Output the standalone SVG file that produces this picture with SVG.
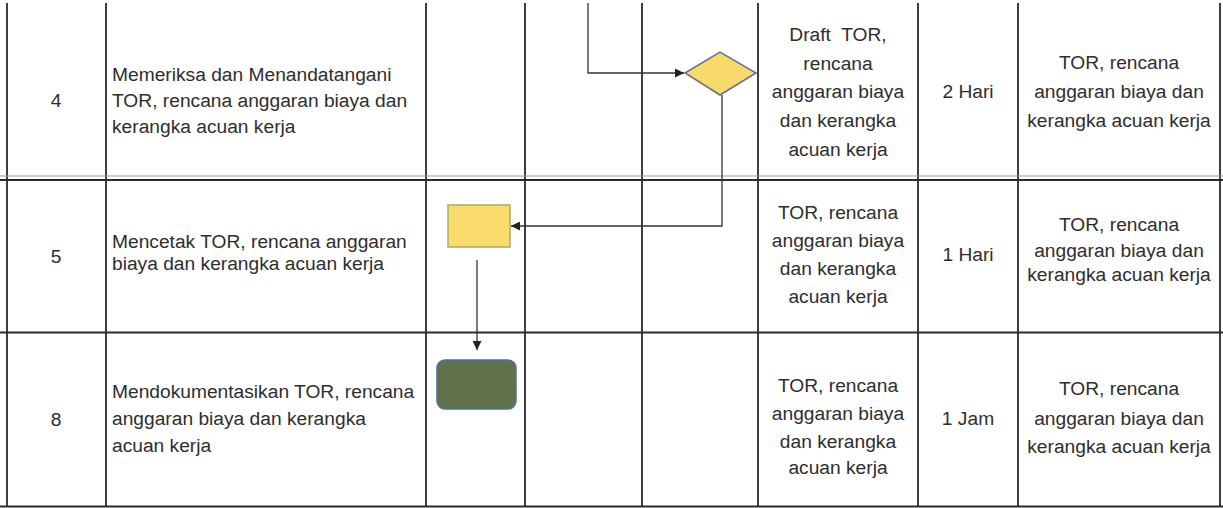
<svg xmlns="http://www.w3.org/2000/svg" width="1223" height="508" viewBox="0 0 1223 508">
<style>
.t{font-family:"Liberation Sans",Arial,sans-serif;font-size:19.2px;fill:#2e2e2e}
.c{text-anchor:middle}
.grid line{stroke:#2a2a2a;stroke-width:1.8}
.conn{fill:none;stroke:#333;stroke-width:1.3}
</style>
<defs>
<marker id="ah" viewBox="0 0 10 10" refX="10" refY="5" markerWidth="11" markerHeight="9" markerUnits="userSpaceOnUse" orient="auto">
<path d="M0,0 L10,5 L0,10 z" fill="#222"/>
</marker>
</defs>
<rect width="1223" height="508" fill="#fff"/>
<g id="grid" class="grid">
<line x1="7" y1="3" x2="7" y2="507"/>
<line x1="106" y1="3" x2="106" y2="507"/>
<line x1="426" y1="3" x2="426" y2="507"/>
<line x1="525" y1="3" x2="525" y2="507"/>
<line x1="642" y1="3" x2="642" y2="507"/>
<line x1="758" y1="3" x2="758" y2="507"/>
<line x1="918" y1="3" x2="918" y2="507"/>
<line x1="1018" y1="3" x2="1018" y2="507"/>
<line x1="1220" y1="3" x2="1220" y2="507"/>
<line x1="0" y1="176" x2="1223" y2="176" style="stroke:#9a9a9a;stroke-width:1.2"/>
<line x1="0" y1="180" x2="1223" y2="180" style="stroke-width:2.2"/>
<line x1="0" y1="332.5" x2="1223" y2="332.5"/>
<line x1="0" y1="506.5" x2="1223" y2="506.5" style="stroke-width:2"/>
</g>
<g id="connectors">
<polyline class="conn" points="588,3 588,73 684,73" marker-end="url(#ah)"/>
<polyline class="conn" points="722,95 722,226 511,226" marker-end="url(#ah)"/>
<line class="conn" x1="477" y1="260" x2="477" y2="350" marker-end="url(#ah)"/>
</g>
<g id="node-decision">
<polygon points="685,73 720,52 756,73 720,95" fill="#F8DA6B" stroke="#6a6f8c" stroke-width="1.5"/>
</g>
<g id="node-print">
<rect x="448" y="205" width="62" height="42" fill="#F9DC6C" stroke="#A7AD5E" stroke-width="1.5"/>
</g>
<g id="node-document">
<rect x="437" y="360" width="79" height="49" rx="8" fill="#5F7249" stroke="#5470A4" stroke-width="1.5"/>
</g>
<g id="row4">
<text class="t c" x="56" y="107">4</text>
<text class="t" x="112" y="81">Memeriksa dan Menandatangani</text>
<text class="t" x="112" y="107">TOR, rencana anggaran biaya dan</text>
<text class="t" x="112" y="133">kerangka acuan kerja</text>
<text class="t c" x="838" y="41" xml:space="preserve">Draft  TOR,</text>
<text class="t c" x="838" y="70">rencana</text>
<text class="t c" x="838" y="98">anggaran biaya</text>
<text class="t c" x="838" y="127">dan kerangka</text>
<text class="t c" x="838" y="156">acuan kerja</text>
<text class="t c" x="968" y="98">2 Hari</text>
<text class="t c" x="1119" y="69">TOR, rencana</text>
<text class="t c" x="1119" y="98">anggaran biaya dan</text>
<text class="t c" x="1119" y="127">kerangka acuan kerja</text>
</g>
<g id="row5">
<text class="t c" x="56" y="263">5</text>
<text class="t" x="112" y="248">Mencetak TOR, rencana anggaran</text>
<text class="t" x="112" y="270">biaya dan kerangka acuan kerja</text>
<text class="t c" x="838" y="219">TOR, rencana</text>
<text class="t c" x="838" y="247">anggaran biaya</text>
<text class="t c" x="838" y="275">dan kerangka</text>
<text class="t c" x="838" y="303">acuan kerja</text>
<text class="t c" x="968" y="261">1 Hari</text>
<text class="t c" x="1119" y="231">TOR, rencana</text>
<text class="t c" x="1119" y="257">anggaran biaya dan</text>
<text class="t c" x="1119" y="281">kerangka acuan kerja</text>
</g>
<g id="row8">
<text class="t c" x="56" y="426">8</text>
<text class="t" x="112" y="398">Mendokumentasikan TOR, rencana</text>
<text class="t" x="112" y="425">anggaran biaya dan kerangka</text>
<text class="t" x="112" y="452">acuan kerja</text>
<text class="t c" x="838" y="392">TOR, rencana</text>
<text class="t c" x="838" y="420">anggaran biaya</text>
<text class="t c" x="838" y="448">dan kerangka</text>
<text class="t c" x="838" y="474">acuan kerja</text>
<text class="t c" x="968" y="425">1 Jam</text>
<text class="t c" x="1119" y="395">TOR, rencana</text>
<text class="t c" x="1119" y="425">anggaran biaya dan</text>
<text class="t c" x="1119" y="453">kerangka acuan kerja</text>
</g>
</svg>
